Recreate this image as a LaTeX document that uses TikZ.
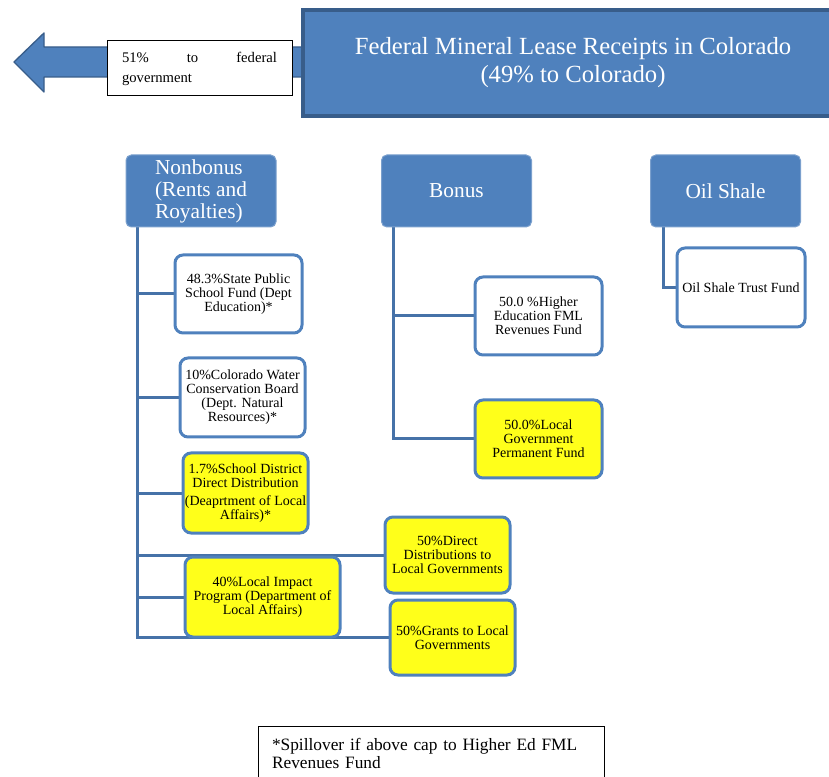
\documentclass[tikz,border=0pt]{standalone}
\usepackage{fontspec}
\setmainfont{Liberation Serif}
\usetikzlibrary{backgrounds}
\definecolor{mlblue}{HTML}{4F81BD}
\definecolor{mledge}{HTML}{385D8A}
\definecolor{linkblue}{HTML}{4672A8}
\definecolor{fundyellow}{HTML}{FFFF1A}
\begin{document}
\begin{tikzpicture}[x=0.75pt, y=-0.75pt,
        boxsize/.style 2 args={minimum width=#1*0.75pt, minimum height=#2*0.75pt},
        topbox/.style={rounded corners=4pt, fill=mlblue, draw=mlblue!75!white, line width=0.75pt,
            text=white, font=\fontsize{16}{16.5}\selectfont, inner sep=0pt},
        fundbox/.style={rounded corners=6pt, fill=white, draw=mlblue, line width=2.25pt,
            align=center, font=\fontsize{10.5}{10.5}\selectfont, inner sep=1pt},
        hotbox/.style={fundbox, fill=fundyellow},
        link/.style={draw=linkblue, line width=2.25pt}]
        \useasboundingbox (0,0) rectangle (829,777);
        % Arrow to the federal share, behind the header.
        \coordinate (fedtip) at (14,62);
        \filldraw[fill=mlblue, draw=mledge, line width=1pt, line join=round]
            (fedtip) -- ++(30,-29) -- ++(0,14) -- ++(280,0) -- ++(0,30) -- ++(-280,0) -- ++(0,15) -- cycle;
        \node[boxsize={540}{106}, fill=mlblue, draw=mledge, line width=3pt, text=white, align=center,
            font=\fontsize{18.5}{21}\selectfont] (header) at (573,63)
            {Federal Mineral Lease Receipts in Colorado\\(49\% to Colorado)};
        \node[boxsize={185}{55}, fill=white, draw=black, line width=0.75pt, align=left,
            text width=155*0.75pt, font=\fontsize{11}{15}\selectfont] (federal) at (199.5,68.5)
            {51\%\hfill to\hfill federal\\government};
        % Three kinds of receipts.
        \node[topbox, boxsize={150}{72}, align=left] (nonbonus) at (201,191) {Nonbonus\\(Rents and\\Royalties)};
        \node[topbox, boxsize={150}{72}] (bonus) at (456.5,191) {Bonus};
        \node[topbox, boxsize={150}{72}] (oilshale) at (725.5,191) {Oil Shale};
        % Funds.
        \node[fundbox, boxsize={127}{78}] (state) at (238.5,294) {48.3\%State Public\\School Fund (Dept\\Education)*};
        \node[fundbox, boxsize={125}{79}] (water) at (242.5,397.5) {10\%Colorado Water\\Conservation Board\\(Dept. Natural\\Resources)*};
        \node[hotbox, boxsize={125}{80}] (schooldist) at (245.5,493) {1.7\%School District\\Direct Distribution\\[3pt](Deaprtment of Local\\Affairs)*};
        \node[hotbox, boxsize={155}{80}] (impact) at (262.5,597) {40\%Local Impact\\Program (Department of\\Local Affairs)};
        \node[hotbox, boxsize={125}{76}] (direct) at (447.5,555) {50\%Direct\\Distributions to\\Local Governments};
        \node[hotbox, boxsize={125}{75}] (grants) at (452.5,637.5) {50\%Grants to Local\\Governments};
        \node[fundbox, boxsize={127}{78}] (higher) at (538.5,316) {50.0 \%Higher\\Education FML\\Revenues Fund};
        \node[hotbox, boxsize={127}{78}] (localperm) at (538.5,439) {50.0\%Local\\Government\\Permanent Fund};
        \node[fundbox, boxsize={128}{79}] (trust) at (741,287.5) {Oil Shale Trust Fund};
        \node[boxsize={346}{54}, draw=black, line width=0.75pt, align=left, text width=318*0.75pt,
            font=\fontsize{13}{13.5}\selectfont] (note) at (431,753)
            {*Spillover if above cap to Higher Ed FML\\Revenues Fund};
        % Connectors.
        \coordinate (nbtrunk) at ([xshift=9pt]nonbonus.south west);
        \coordinate (btrunk) at ([xshift=9pt]bonus.south west);
        \coordinate (ostrunk) at ([xshift=9.75pt]oilshale.south west);
        \begin{pgfonlayer}{background}
            \draw[link] (nbtrunk) |- (state.west);
            \draw[link] (nbtrunk) |- (water.west);
            \draw[link] (nbtrunk) |- (schooldist.west);
            \draw[link] (nbtrunk) |- (direct.west);
            \draw[link] (nbtrunk) |- (impact.west);
            \draw[link] (nbtrunk) |- (grants.west);
            \draw[link] (btrunk) |- (higher.west);
            \draw[link] (btrunk) |- (localperm.west);
            \draw[link] (ostrunk) |- (trust.west);
        \end{pgfonlayer}
    \end{tikzpicture}
\end{document}
